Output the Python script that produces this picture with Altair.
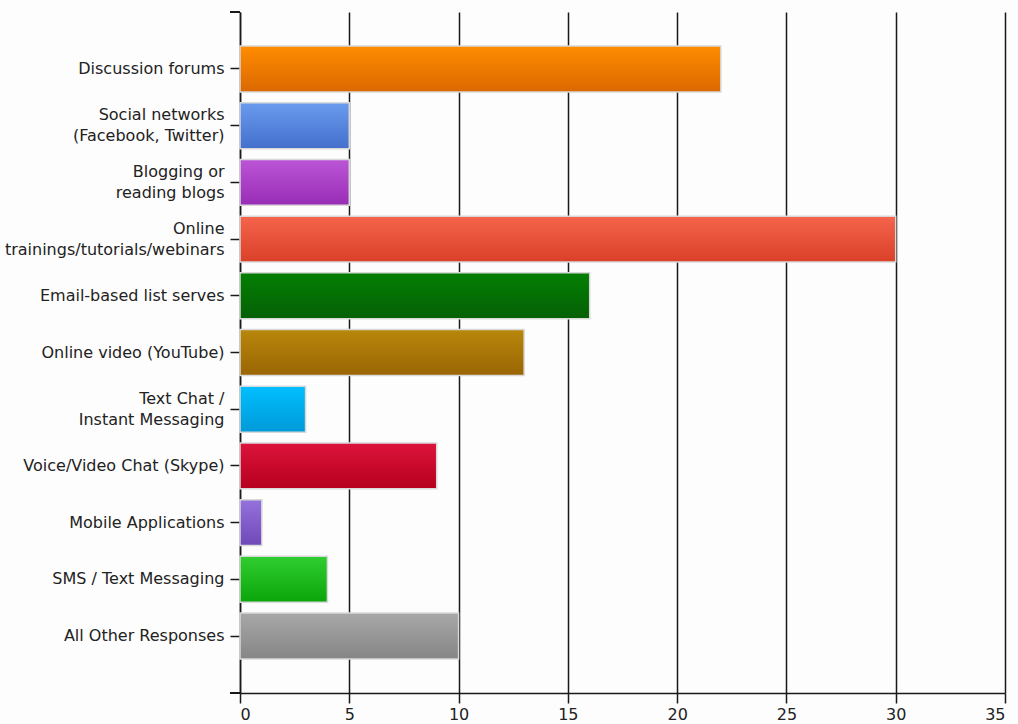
import altair as alt
import pandas as pd

categories = [
    "Discussion forums",
    "Social networks|(Facebook, Twitter)",
    "Blogging or|reading blogs",
    "Online|trainings/tutorials/webinars",
    "Email-based list serves",
    "Online video (YouTube)",
    "Text Chat /|Instant Messaging",
    "Voice/Video Chat (Skype)",
    "Mobile Applications",
    "SMS / Text Messaging",
    "All Other Responses",
]
values = [22, 5, 5, 30, 16, 13, 3, 9, 1, 4, 10]
x_ticks = [0, 5, 10, 15, 20, 25, 30, 35]

top_colors = ["#FF8C00", "#6A9BEE", "#BB55D6", "#F5644C", "#037F03", "#B8870B",
              "#00BFFF", "#DC143C", "#9572DC", "#30CD30", "#A8A8A8"]
bottom_colors = ["#DB6800", "#4470CC", "#982DB5", "#DA4028", "#056005", "#9A6504",
                 "#0099D8", "#B6001E", "#7048B8", "#0AA50A", "#858585"]

df = pd.DataFrame({"cat": categories, "val": values})

FONT = "DejaVu Sans"

x_enc = alt.X("val:Q",
              scale=alt.Scale(domain=[0, 35], nice=False),
              axis=alt.Axis(values=x_ticks, title=None, grid=True, gridColor="#1a1a1a",
                            gridWidth=1.5, gridOpacity=1, domainColor="#1a1a1a", domainWidth=1.5,
                            tickColor="#1a1a1a", tickWidth=1.5, tickSize=10, labelPadding=3,
                            labelFont=FONT, labelFontSize=16, labelColor="#222222"))
y_enc = alt.Y("cat:N", sort=categories,
              scale=alt.Scale(domain=categories, paddingInner=0.19, paddingOuter=0.6),
              axis=alt.Axis(title=None, labelExpr="split(datum.label, '|')",
                            labelOffset={"condition": {"test": "indexof(datum.label, '|') >= 0",
                                                       "value": -10.5},
                                         "value": 0},
                            domainColor="#1a1a1a", domainWidth=1.5, tickColor="#1a1a1a",
                            tickWidth=1.5, tickSize=10, labelPadding=6, labelFont=FONT,
                            labelFontSize=16, labelLineHeight=21, labelColor="#222222",
                            labelLimit=400))

layers = []
for c, t, b in zip(categories, top_colors, bottom_colors):
    grad = alt.Gradient(gradient="linear",
                        stops=[alt.GradientStop(color=t, offset=0),
                               alt.GradientStop(color=b, offset=1)],
                        x1=0, x2=0, y1=0, y2=1)
    layers.append(
        alt.Chart(df).transform_filter(alt.datum.cat == c)
        .mark_bar(color=grad, stroke="#d9d9d9", strokeWidth=1.5, opacity=1)
        .encode(x=x_enc, y=y_enc)
    )

end_top = alt.Chart(df).mark_rule(color="#1a1a1a", strokeWidth=1.5).encode(
    x=alt.value(-10), x2=alt.value(0), y=alt.value(0))
end_bottom = alt.Chart(df).mark_rule(color="#1a1a1a", strokeWidth=1.5).encode(
    x=alt.value(-10), x2=alt.value(0), y=alt.value(681))

chart = alt.layer(*layers, end_top, end_bottom).properties(
    width=765, height=681, autosize="none",
    padding={"left": 240, "top": 12, "right": 13, "bottom": 31},
    background="#fdfdfd",
).configure_view(stroke=None)

chart.save("out.html", embed_options={"renderer": "svg", "actions": False})
